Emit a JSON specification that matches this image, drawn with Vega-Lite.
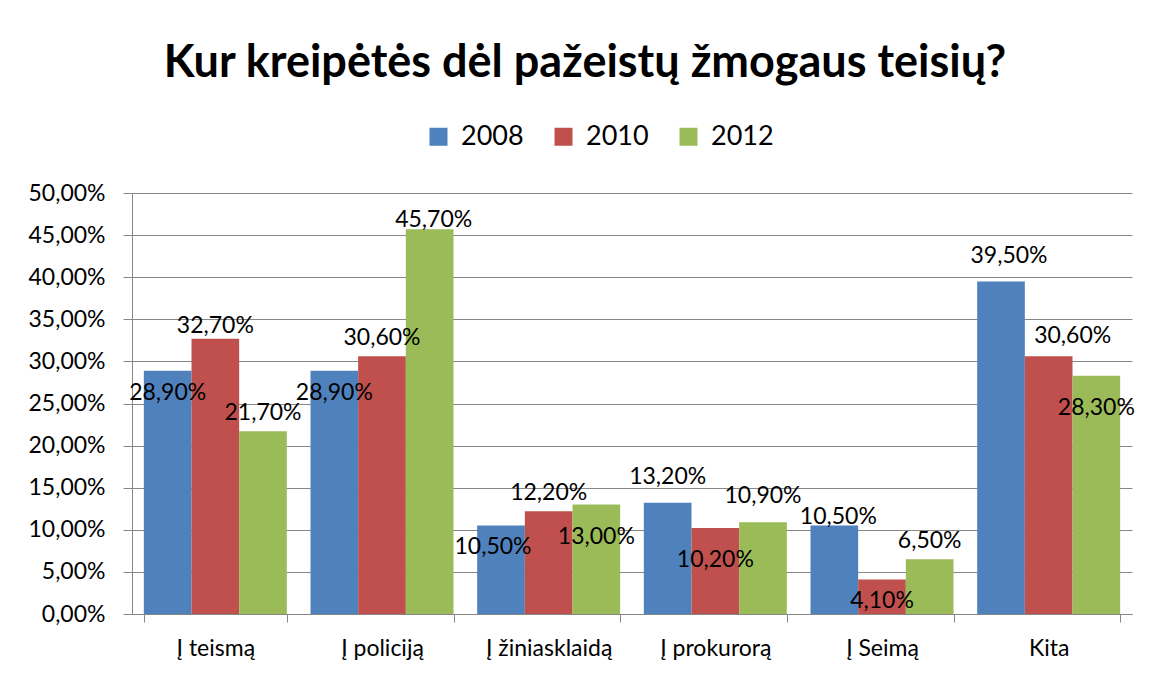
{
  "$schema": "https://vega.github.io/schema/vega-lite/v6.json",
  "autosize": "none",
  "width": 1000,
  "height": 421,
  "padding": {"left": 132, "top": 193, "right": 17, "bottom": 61},
  "background": "white",
  "title": {
    "text": "Kur kreipėtės dėl pažeistų žmogaus teisių?",
    "font": "Lato",
    "fontSize": 45,
    "fontWeight": "bold",
    "color": "black",
    "anchor": "middle",
    "frame": "group",
    "dx": -47,
    "offset": 37
  },
  "data": {
    "values": [
      {"kategorija": "Į teismą", "metai": "2008", "dalis": 0.289},
      {"kategorija": "Į teismą", "metai": "2010", "dalis": 0.327},
      {"kategorija": "Į teismą", "metai": "2012", "dalis": 0.217},
      {"kategorija": "Į policiją", "metai": "2008", "dalis": 0.289},
      {"kategorija": "Į policiją", "metai": "2010", "dalis": 0.306},
      {"kategorija": "Į policiją", "metai": "2012", "dalis": 0.457},
      {"kategorija": "Į žiniasklaidą", "metai": "2008", "dalis": 0.105},
      {"kategorija": "Į žiniasklaidą", "metai": "2010", "dalis": 0.122},
      {"kategorija": "Į žiniasklaidą", "metai": "2012", "dalis": 0.130},
      {"kategorija": "Į prokurorą", "metai": "2008", "dalis": 0.132},
      {"kategorija": "Į prokurorą", "metai": "2010", "dalis": 0.102},
      {"kategorija": "Į prokurorą", "metai": "2012", "dalis": 0.109},
      {"kategorija": "Į Seimą", "metai": "2008", "dalis": 0.105},
      {"kategorija": "Į Seimą", "metai": "2010", "dalis": 0.041},
      {"kategorija": "Į Seimą", "metai": "2012", "dalis": 0.065},
      {"kategorija": "Kita", "metai": "2008", "dalis": 0.395},
      {"kategorija": "Kita", "metai": "2010", "dalis": 0.306},
      {"kategorija": "Kita", "metai": "2012", "dalis": 0.283}
    ]
  },
  "encoding": {
    "x": {
      "field": "kategorija",
      "type": "nominal",
      "sort": ["Į teismą", "Į policiją", "Į žiniasklaidą", "Į prokurorą", "Į Seimą", "Kita"],
      "scale": {"paddingInner": 0.142, "paddingOuter": 0.071},
      "axis": {
        "title": null,
        "labelAngle": 0,
        "tickBand": "extent",
        "tickSize": 8,
        "labelPadding": 15,
        "grid": false
      }
    },
    "xOffset": {"field": "metai", "type": "nominal", "scale": {"paddingInner": 0, "paddingOuter": 0}},
    "y": {
      "field": "dalis",
      "type": "quantitative",
      "scale": {"domain": [0, 0.5], "nice": false},
      "axis": {
        "title": null,
        "values": [0, 0.05, 0.1, 0.15, 0.2, 0.25, 0.3, 0.35, 0.4, 0.45, 0.5],
        "format": ".2%",
        "tickSize": 9,
        "labelPadding": 18,
        "grid": true
      }
    }
  },
  "layer": [
    {
      "mark": {"type": "bar"},
      "encoding": {
        "color": {
          "field": "metai",
          "type": "nominal",
          "scale": {"domain": ["2008", "2010", "2012"], "range": ["#4F81BD", "#C0504D", "#9BBB59"]},
          "legend": {
            "title": null,
            "orient": "none",
            "direction": "horizontal",
            "legendX": 293,
            "legendY": -70,
            "symbolType": "square",
            "symbolSize": 324,
            "symbolStrokeWidth": 0,
            "labelFont": "Lato",
            "labelFontSize": 27,
            "labelColor": "black",
            "labelOffset": 9,
            "columnPadding": 26
          }
        }
      }
    },
    {
      "transform": [{"filter": "indexof(['Į teismą|2012','Į policiją|2010','Į žiniasklaidą|2010','Į Seimą|2012'], datum.kategorija + '|' + datum.metai) >= 0"}],
      "mark": {"type": "text", "dy": -18},
      "encoding": {"text": {"field": "dalis", "type": "quantitative", "format": ".2%"}}
    },
    {
      "transform": [{"filter": "indexof(['Į teismą|2010'], datum.kategorija + '|' + datum.metai) >= 0"}],
      "mark": {"type": "text", "dy": -13},
      "encoding": {"text": {"field": "dalis", "type": "quantitative", "format": ".2%"}}
    },
    {
      "transform": [{"filter": "indexof(['Į policiją|2012','Į Seimą|2008'], datum.kategorija + '|' + datum.metai) >= 0"}],
      "mark": {"type": "text", "dy": -9, "dx": 4},
      "encoding": {"text": {"field": "dalis", "type": "quantitative", "format": ".2%"}}
    },
    {
      "transform": [{"filter": "indexof(['Į prokurorą|2008','Į prokurorą|2012'], datum.kategorija + '|' + datum.metai) >= 0"}],
      "mark": {"type": "text", "dy": -26},
      "encoding": {"text": {"field": "dalis", "type": "quantitative", "format": ".2%"}}
    },
    {
      "transform": [{"filter": "indexof(['Kita|2008'], datum.kategorija + '|' + datum.metai) >= 0"}],
      "mark": {"type": "text", "dy": -25, "dx": 8},
      "encoding": {"text": {"field": "dalis", "type": "quantitative", "format": ".2%"}}
    },
    {
      "transform": [{"filter": "indexof(['Kita|2010'], datum.kategorija + '|' + datum.metai) >= 0"}],
      "mark": {"type": "text", "dy": -20, "dx": 24},
      "encoding": {"text": {"field": "dalis", "type": "quantitative", "format": ".2%"}}
    },
    {
      "transform": [{"filter": "indexof(['Į teismą|2008','Į policiją|2008','Į Seimą|2010'], datum.kategorija + '|' + datum.metai) >= 0"}],
      "mark": {"type": "text", "dy": 22},
      "encoding": {"text": {"field": "dalis", "type": "quantitative", "format": ".2%"}}
    },
    {
      "transform": [{"filter": "indexof(['Į žiniasklaidą|2008'], datum.kategorija + '|' + datum.metai) >= 0"}],
      "mark": {"type": "text", "dy": 21, "dx": -8},
      "encoding": {"text": {"field": "dalis", "type": "quantitative", "format": ".2%"}}
    },
    {
      "transform": [{"filter": "indexof(['Į žiniasklaidą|2012','Į prokurorą|2010','Kita|2012'], datum.kategorija + '|' + datum.metai) >= 0"}],
      "mark": {"type": "text", "dy": 32},
      "encoding": {"text": {"field": "dalis", "type": "quantitative", "format": ".2%"}}
    }
  ],
  "config": {
    "locale": {
      "number": {"decimal": ",", "thousands": " ", "grouping": [3], "currency": ["", " €"]}
    },
    "view": {"stroke": null},
    "axis": {
      "labelFont": "Lato",
      "labelFontSize": 23,
      "labelColor": "black",
      "domainColor": "#878787",
      "tickColor": "#878787",
      "gridColor": "#878787",
      "gridOpacity": 1,
      "domainWidth": 1,
      "tickWidth": 1,
      "gridWidth": 1
    },
    "text": {"font": "Lato", "fontSize": 23, "color": "black", "baseline": "middle", "align": "center"}
  }
}
